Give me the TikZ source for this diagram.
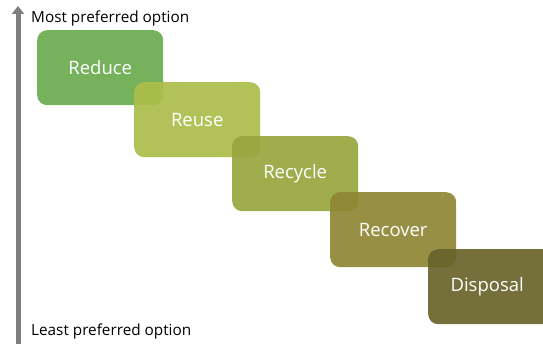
\documentclass[tikz,border=0pt]{standalone}
\usepackage{fontspec}
\setmainfont{Open Sans}
\usetikzlibrary{arrows.meta}
\definecolor{cReduce}{HTML}{6AAA4E}
\definecolor{cReuse}{HTML}{ABBD4A}
\definecolor{cRecycle}{HTML}{97A63E}
\definecolor{cRecover}{HTML}{8E8633}
\definecolor{cDisposal}{HTML}{68632A}
\definecolor{axisgray}{HTML}{7F7F7F}
\tikzset{
  x=1pt, y=-1pt,
  stage/.style={fill=#1, fill opacity=0.92, draw=none, rounded corners=10pt,
    minimum width=126pt, minimum height=75pt, anchor=north west, inner sep=0pt,
    text=white, text opacity=1, font=\fontsize{18.5}{21}\selectfont},
  axislabel/.style={anchor=west, inner sep=0pt, font=\fontsize{15.3}{17}\selectfont}
}
\begin{document}
\begin{tikzpicture}
  \useasboundingbox (0,0) rectangle (543,344);
  % preference axis
  \coordinate (axisbottom) at (18,344);
  \coordinate (axistop) at (18,6);
  \draw[axisgray, line width=5pt, -{Triangle[length=8pt,width=12pt]}] (axisbottom) -- (axistop);
  \node[axislabel] (most) at (31,18) {Most preferred option};
  \node[axislabel] (least) at (31,331) {Least preferred option};
  % waste hierarchy stages
  \node[stage=cReduce] (reduce) at (37,30) {Reduce};
  \node[stage=cReuse] (reuse) at (134,82) {Reuse};
  \node[stage=cRecycle] (recycle) at (232,136) {Recycle};
  \node[stage=cRecover] (recover) at (330,192) {Recover};
  \node[stage=cDisposal, minimum width=128pt] (disposal) at (428,249) {\hspace*{-10pt}Disposal};
\end{tikzpicture}
\end{document}
